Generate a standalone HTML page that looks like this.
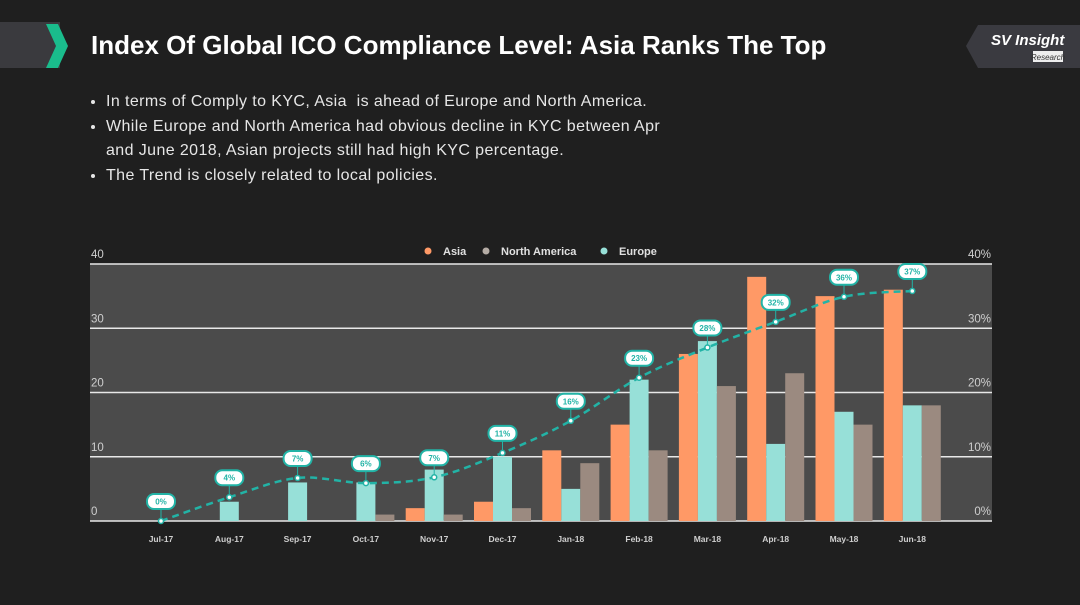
<!DOCTYPE html>
<html><head><meta charset="utf-8"><style>
body{margin:0;width:1080px;height:605px;background:#1f1f1f;overflow:hidden;font-family:"Liberation Sans",sans-serif;}
#band{position:absolute;left:0;top:22px;width:60px;height:46px;background:#3a3a3e;}
#title{position:absolute;left:91px;top:30px;color:#fff;font-size:26px;font-weight:bold;}
ul{position:absolute;left:88px;top:90px;margin:0;padding:0 0 0 18px;color:#e6e6e6;font-size:16px;letter-spacing:0.4px;line-height:24.7px;width:580px;}
li{margin:0}
</style></head><body>
<div id="band"></div>
<svg style="position:absolute;left:0;top:0" width="1080" height="80">
<polygon points="46,24 58,24 68,46 58,68 46,68 56,46" fill="#1abc8c"/>
<polygon points="978,25 1080,25 1080,68 978,68 966,46" fill="#3a3a40"/>
<text x="991" y="45" fill="#fff" font-size="15" font-weight="bold" font-style="italic">SV Insight</text>
<rect x="1033" y="51" width="30" height="11" fill="#eee"/>
<text x="1048" y="60" fill="#333" font-size="8" font-style="italic" text-anchor="middle">Research</text>
</svg>
<div id="title">Index Of Global ICO Compliance Level: Asia Ranks The Top</div>
<ul>
<li>In terms of Comply to KYC, Asia &nbsp;is ahead of Europe and North America.</li>
<li>While Europe and North America had obvious decline in KYC between Apr and June 2018, Asian projects still had high KYC percentage.</li>
<li>The Trend is closely related to local policies.</li>
</ul>
<svg id="chart" style="position:absolute;left:0;top:0" width="1080" height="605"></svg>
<script>
const categories=["Jul-17","Aug-17","Sep-17","Oct-17","Nov-17","Dec-17","Jan-18","Feb-18","Mar-18","Apr-18","May-18","Jun-18"];
const asia=[0,0,0,0,2,3,11,15,26,38,35,36];
const europe=[0,3,6,6,8,10,5,22,28,12,17,18];
const northAmerica=[0,0,0,1,1,2,9,11,21,23,15,18];
const trend=[0,3.7,6.7,5.9,6.8,10.6,15.6,22.3,27,31,34.9,35.8];
const trendLabels=["0%","4%","7%","6%","7%","11%","16%","23%","28%","32%","36%","37%"];
const leftTicks=[0,10,20,30,40];
const rightTicks=["0%","10%","20%","30%","40%"];
const svg=document.getElementById('chart');const NS="http://www.w3.org/2000/svg";
function mk(t,a,p){const e=document.createElementNS(NS,t);for(const k in a)e.setAttribute(k,a[k]);(p||svg).appendChild(e);return e;}
const X0=90,X1=992,Y0=521,Y1=264;
const y=v=>Y0-(v/40)*(Y0-Y1);
const yr=v=>Y0-(v/40)*(Y0-Y1);
const cx=i=>161+i*68.3;
let e=mk('rect',{x:X0,y:Y1,width:X1-X0,height:Y0-Y1,fill:'#4b4b4b'});


leftTicks.forEach((t,i)=>{
 e=mk('line',{x1:X0,x2:X1,y1:y(t),y2:y(t),stroke:'#e8e8e8','stroke-width':1.5});
 
 
 e=mk('text',{x:91,y:y(t)-6,fill:'#cfcfcf','font-size':11.5});e.textContent=t;
 
 
 e=mk('text',{x:991,y:y(t)-6,fill:'#cfcfcf','font-size':11.5,'text-anchor':'end'});e.textContent=rightTicks[i];
 
 
});
const bw=19;
const series=[[asia,'#ff9966',-1,'bar-asia'],[europe,'#97e0d8',0,'bar-europe'],[northAmerica,'#9b8a80',1,'bar-north-america']];
categories.forEach((c,i)=>{
 series.forEach(s=>{const v=s[0][i];if(v<=0)return;
  e=mk('rect',{x:cx(i)+s[2]*bw-bw/2,y:y(v),width:bw,height:Y0-y(v),fill:s[1]});
  
  
 });
 e=mk('text',{x:cx(i),y:542,fill:'#cfcfcf','font-size':8.5,'font-weight':'bold','text-anchor':'middle'});e.textContent=c;
 
 
});
let d='';const pts=categories.map((c,i)=>[cx(i),yr(trend[i])]);
pts.forEach((p,i)=>{if(i==0){d='M'+p[0]+','+p[1];return;}const q=pts[i-1],a=pts[i-2]||q,b=pts[i+1]||p;
 d+=` C${q[0]+(p[0]-a[0])/6},${q[1]+(p[1]-a[1])/6} ${p[0]-(b[0]-q[0])/6},${p[1]-(b[1]-q[1])/6} ${p[0]},${p[1]}`;});
e=mk('path',{d:d,fill:'none',stroke:'#22b3a6','stroke-width':2.5,'stroke-dasharray':'7,5'});


pts.forEach((p,i)=>{
 e=mk('circle',{cx:p[0],cy:p[1],r:2.5,fill:'#fff',stroke:'#22b3a6','stroke-width':1.5});
 
 
 mk('line',{x1:p[0],x2:p[0],y1:p[1]-3,y2:p[1]-12,stroke:'#22b3a6','stroke-width':1});
 e=mk('rect',{x:p[0]-14,y:p[1]-27,width:28,height:15,rx:7,fill:'#fff',stroke:'#22b3a6','stroke-width':2});
 
 
 e=mk('text',{x:p[0],y:p[1]-16.5,fill:'#22b3a6','font-size':8,'font-weight':'bold','text-anchor':'middle'});e.textContent=trendLabels[i];
 
 
});
[['Asia','#ff9966',428],['North America','#b5aca5',486],['Europe','#97e0d8',604]].forEach(l=>{
 e=mk('circle',{cx:l[2],cy:251,r:3.5,fill:l[1]});
 
 
 e=mk('text',{x:l[2]+15,y:255,fill:'#e0e0e0','font-size':11,'font-weight':'bold'});e.textContent=l[0];
 
 
});
</script>
</body></html>
